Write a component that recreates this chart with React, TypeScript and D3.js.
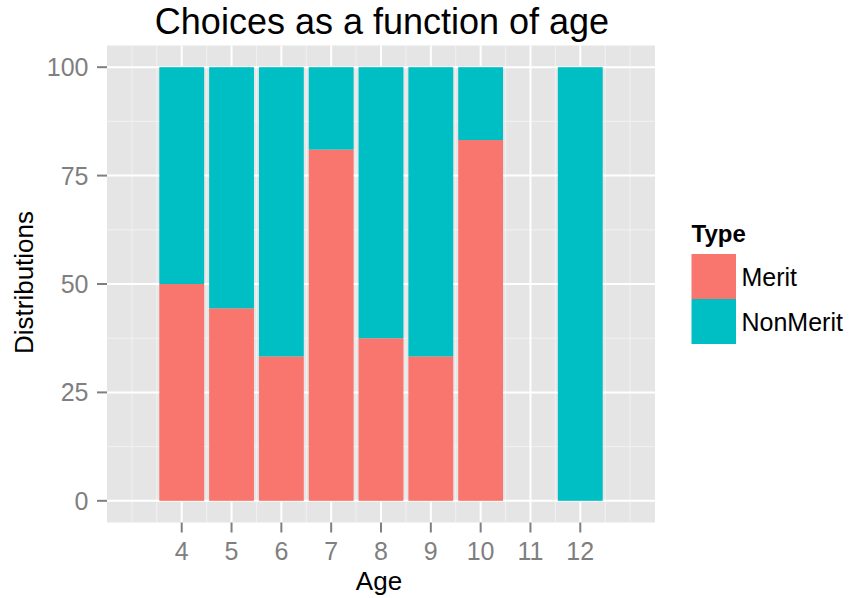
import React from "react";
import * as d3 from "d3";

const ages = [4, 5, 6, 7, 8, 9, 10, 12];
const merit = [50, 44.4, 33.3, 81, 37.5, 33.3, 83.2, 0];
const nonMerit = [50, 55.6, 66.7, 19, 62.5, 66.7, 16.8, 100];
const seriesKeys = ["Merit", "NonMerit"];
const seriesColors = ["#F8766D", "#00BFC4"];
const xTicks = [4, 5, 6, 7, 8, 9, 10, 11, 12];
const xMinor = [3, 3.5, 4.5, 5.5, 6.5, 7.5, 8.5, 9.5, 10.5, 11.5, 12.5, 13];
const yTicks = [0, 25, 50, 75, 100];
const yMinor = [12.5, 37.5, 62.5, 87.5];
const title = "Choices as a function of age";
const xTitle = "Age";
const yTitle = "Distributions";
const legendTitle = "Type";

const FONT = "'Liberation Sans', Arial, Helvetica, sans-serif";

export default function App() {
  const W = 850, H = 598;
  const pL = 107, pR = 655, pT = 45.5, pB = 522.5;
  const x = d3.scaleLinear().domain([2.5, 13.5]).range([pL, pR]);
  const y = d3.scaleLinear().domain([-5, 105]).range([pB, pT]);
  const color = d3.scaleOrdinal<string, string>().domain(seriesKeys).range(seriesColors);

  const rows = ages.map((a, i) => ({ age: a, Merit: merit[i], NonMerit: nonMerit[i] }));
  const stacked = d3.stack<any>().keys(seriesKeys)(rows);
  const bw = x(0.9) - x(0);

  return (
    <svg width={W} height={H} style={{ position: "absolute", left: 0, top: 0 }} fontFamily={FONT}>
      <rect x={0} y={0} width={W} height={H} fill="#fff" />
      <rect x={pL} y={pT} width={pR - pL} height={pB - pT} fill="#E5E5E5" />
      {xMinor.map((v) => (
        <line key={"xm" + v} x1={x(v)} x2={x(v)} y1={pT} y2={pB} stroke="#F2F2F2" strokeWidth={1} />
      ))}
      {yMinor.map((v) => (
        <line key={"ym" + v} x1={pL} x2={pR} y1={y(v)} y2={y(v)} stroke="#F2F2F2" strokeWidth={1} />
      ))}
      {xTicks.map((v) => (
        <line key={"xM" + v} x1={x(v)} x2={x(v)} y1={pT} y2={pB} stroke="#fff" strokeWidth={2} />
      ))}
      {yTicks.map((v) => (
        <line key={"yM" + v} x1={pL} x2={pR} y1={y(v)} y2={y(v)} stroke="#fff" strokeWidth={2} />
      ))}
      {stacked.map((s) =>
        s.map((d: any, i: number) =>
          d[1] - d[0] > 0 ? (
            <rect
              key={s.key + i}
              x={x(d.data.age) - bw / 2}
              width={bw}
              y={y(d[1])}
              height={y(d[0]) - y(d[1])}
              fill={color(s.key)}
            />
          ) : null
        )
      )}
      {xTicks.map((v) => (
        <g key={"xt" + v}>
          <line x1={x(v)} x2={x(v)} y1={pB} y2={pB + 10} stroke="#7F7F7F" strokeWidth={2} />
          <text x={x(v)} y={559.5} textAnchor="middle" fontSize={25} fill="#7F7F7F">
            {v}
          </text>
        </g>
      ))}
      {yTicks.map((v) => (
        <g key={"yt" + v}>
          <line x1={pL - 10} x2={pL} y1={y(v)} y2={y(v)} stroke="#7F7F7F" strokeWidth={2} />
          <text x={88.5} y={y(v) + 9} textAnchor="end" fontSize={25} fill="#7F7F7F">
            {v}
          </text>
        </g>
      ))}
      <text x={382} y={34} textAnchor="middle" fontSize={36} fill="#000">
        {title}
      </text>
      <text x={(pL + pR) / 2 - 2} y={590} textAnchor="middle" fontSize={26} fill="#000">
        {xTitle}
      </text>
      <text
        transform={`translate(33,${(pT + pB) / 2 - 1.5}) rotate(-90)`}
        textAnchor="middle"
        fontSize={26}
        fill="#000"
      >
        {yTitle}
      </text>
      <text x={691.5} y={242} fontSize={24} fontWeight="bold" fill="#000">
        {legendTitle}
      </text>
      {seriesKeys.map((k, i) => (
        <g key={"lg" + k}>
          <rect x={691.5} y={254 + i * 45} width={44.5} height={45} fill={color(k)} />
          <text x={741.5} y={286 + i * 44.5} fontSize={25} fill="#000">
            {k}
          </text>
        </g>
      ))}
    </svg>
  );
}
